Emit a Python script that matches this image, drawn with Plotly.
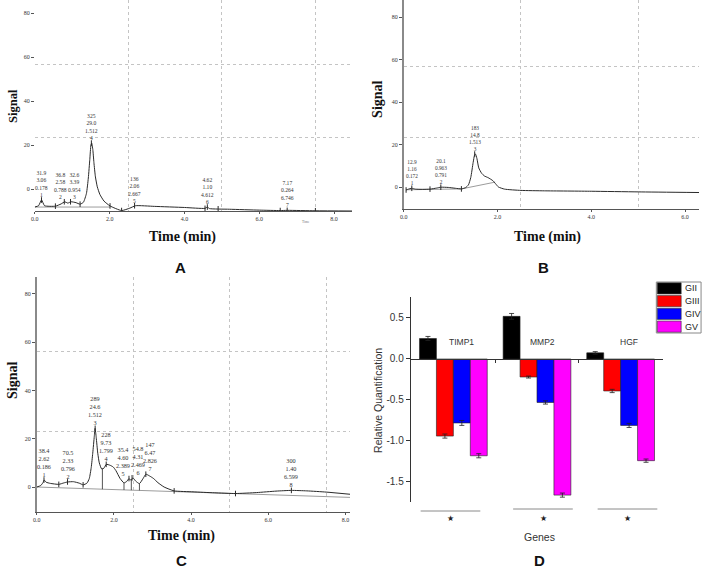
import plotly.graph_objects as go

W, H = 714, 568


def fx(p):
    return p / W


def fy(p):
    return 1 - p / H


# ---------------- Panel A chromatogram ----------------
A_time = [0.00, 0.10, 0.18, 0.26, 0.55, 0.70, 0.80, 0.88, 0.97, 1.10, 1.21, 1.30, 1.38, 1.43,
          1.47, 1.50, 1.52, 1.55, 1.58, 1.62, 1.67, 1.74, 1.85, 2.01, 2.32, 2.54, 2.69, 3.20,
          4.00, 4.55, 4.61, 4.67, 5.20, 6.00, 6.56, 6.75, 7.50, 8.48]
A_signal = [-8.2, -7.6, -5.0, -7.6, -7.8, -6.8, -5.8, -6.4, -5.8, -6.2, -6.9, -6.0, -2.0, 5.0,
            13.5, 20.0, 20.9, 18.0, 12.0, 5.5, 1.0, -2.5, -5.5, -7.7, -9.8, -8.7, -7.6, -7.9,
            -8.4, -8.8, -8.2, -8.9, -9.2, -9.6, -9.8, -9.7, -9.9, -10.0]
A_base_t = [0.00, 2.01]
A_base_s = [-8.2, -8.2]
A_mark_t = [0.55, 1.21, 2.01, 2.32, 4.55, 4.90, 6.56, 7.50]
A_mark_s = [-7.8, -6.9, -7.7, -9.8, -8.8, -9.0, -9.8, -9.9]
A_peak_t = [0.178, 0.788, 0.954, 1.512, 2.667, 4.612, 6.746]
A_peak_s = [-5.0, -5.8, -5.8, 20.9, -7.6, -8.2, -9.7]
A_peak_txt = ["31.9<br>3.06<br>0.178<br>1", "36.8<br>2.58<br>0.788<br>2", "32.6<br>3.39<br>0.954<br>3",
              "325<br>29.0<br>1.512<br>4", "136<br>2.06<br>2.667<br>5", "4.62<br>1.10<br>4.612<br>6",
              "7.17<br>0.264<br>6.746<br>7"]
A_peak_shift = [0, -4, 4, 0, 0, 0, 0]

# ---------------- Panel B chromatogram ----------------
B_time = [0.05, 0.10, 0.17, 0.25, 0.40, 0.56, 0.70, 0.79, 0.95, 1.10, 1.23, 1.32, 1.38, 1.43,
          1.48, 1.51, 1.53, 1.56, 1.60, 1.66, 1.72, 1.80, 1.90, 1.96, 2.02, 2.15, 2.50, 3.00,
          4.00, 5.00, 6.30]
B_signal = [-1.4, -1.0, -0.6, -1.0, -1.1, -1.0, -0.5, -0.1, -0.2, -0.6, -0.9, -0.3, 1.0, 4.5,
            11.5, 15.0, 15.5, 13.5, 9.0, 6.5, 5.2, 4.4, 3.0, 1.5, 0.0, -1.0, -1.6, -1.8,
            -2.0, -2.3, -2.6]
B_base_t = [0.05, 1.23, None, 1.23, 1.95]
B_base_s = [-1.3, -0.9, None, -0.9, 2.3]
B_mark_t = [0.05, 0.56, 1.23]
B_mark_s = [-1.4, -1.0, -0.9]
B_peak_t = [0.172, 0.791, 1.513]
B_peak_s = [-0.6, -0.1, 15.5]
B_peak_txt = ["12.9<br>1.16<br>0.172<br>1", "20.1<br>0.963<br>0.791<br>2", "183<br>14.8<br>1.513<br>3"]
B_peak_shift = [0, 0, 0]

# ---------------- Panel C chromatogram ----------------
C_time = [0.00, 0.10, 0.16, 0.19, 0.24, 0.35, 0.57, 0.70, 0.80, 0.95, 1.10, 1.20, 1.30, 1.36,
          1.41, 1.45, 1.49, 1.51, 1.54, 1.58, 1.62, 1.68, 1.74, 1.80, 1.90, 1.98, 2.05, 2.16,
          2.26, 2.33, 2.39, 2.44, 2.49, 2.56, 2.66, 2.75, 2.83, 2.92, 3.02, 3.14, 3.30, 3.56,
          4.05, 4.60, 5.15, 5.70, 6.20, 6.60, 7.00, 7.50, 8.12]
C_signal = [0.0, 0.6, 1.8, 2.9, 2.0, 1.5, 1.1, 1.7, 2.1, 2.2, 1.6, 0.9, 1.6, 3.5,
            8.0, 14.0, 21.0, 24.3, 20.5, 14.0, 10.0, 7.5, 7.8, 9.4, 9.0, 8.3, 6.8, 3.5,
            1.7, 2.3, 3.5, 2.8, 3.8, 2.5, 1.4, 3.4, 5.3, 4.6, 3.6, 1.8, 0.0, -1.6,
            -2.0, -2.4, -2.7, -2.3, -1.7, -1.4, -1.6, -2.1, -3.0]
C_base_t = [0.00, 8.12]
C_base_s = [0.0, -4.3]
C_drop_t = [1.70, 2.26, 2.45, 2.66]
C_drop_top = [7.6, 1.7, 2.9, 1.4]
C_drop_bot = [-0.9, -1.2, -1.3, -1.4]
C_mark_t = [0.57, 1.20, 3.56, 5.15]
C_mark_s = [1.1, 0.9, -1.6, -2.7]
C_peak_t = [0.186, 0.796, 1.512, 1.799, 2.389, 2.469, 2.826, 6.599]
C_peak_s = [2.9, 2.1, 24.3, 9.4, 3.5, 3.8, 5.3, -1.4]
C_peak_txt = ["38.4<br>2.62<br>0.186<br>1", "70.5<br>2.33<br>0.796<br>2", "289<br>24.6<br>1.512<br>3",
              "228<br>9.73<br>1.799<br>4", "35.4<br>4.60<br>2.389<br>5", "54.8<br>4.31<br>2.469<br>6",
              "147<br>6.47<br>2.826<br>7", "300<br>1.40<br>6.599<br>8"]
C_peak_shift = [0, 0, 0, 0, -6, 6, 4, 0]

chrom_xticks = [0, 2, 4, 6, 8]
chrom_xticktext = ["0.0", "2.0", "4.0", "6.0", "8.0"]
chrom_yticks = [0, 20, 40, 60, 80]
grid_time = [2.5, 5.0, 7.5]

# ---------------- Panel D bar chart ----------------
genes = ["TIMP1", "MMP2", "HGF"]
groups = ["GII", "GIII", "GIV", "GV"]
GII = [0.25, 0.52, 0.075]
GIII = [-0.94, -0.22, -0.39]
GIV = [-0.78, -0.53, -0.81]
GV = [-1.18, -1.66, -1.24]
GII_err = [0.025, 0.035, 0.015]
GIII_err = [0.025, 0.012, 0.02]
GIV_err = [0.03, 0.02, 0.025]
GV_err = [0.025, 0.025, 0.02]
colors = ["#000000", "#ff0000", "#0000ff", "#ff00ff"]
D_yticks = [0.5, 0.0, -0.5, -1.0, -1.5]
D_yticktext = ["0.5", "0.0", "-0.5", "-1.0", "-1.5"]

SERIF = "Liberation Serif, Times New Roman, serif"
SANS = "Liberation Sans, Arial, sans-serif"
TRACE = "#2a2a2a"
BASE = "#9c9c9c"
TXT = "#333333"

fig = go.Figure()
annotations = []
shapes = []


def add_chrom(n, t, s, bt, bs, mt, ms, pt, ps, ptxt, pshift, lblsize):
    xa, ya = "x" + ("" if n == 1 else str(n)), "y" + ("" if n == 1 else str(n))
    fig.add_trace(go.Scatter(x=bt, y=bs, mode="lines", line=dict(color=BASE, width=1),
                             xaxis=xa, yaxis=ya, hoverinfo="skip"))
    fig.add_trace(go.Scatter(x=t, y=s, mode="lines",
                             line=dict(color=TRACE, width=1, shape="spline", smoothing=0.5),
                             xaxis=xa, yaxis=ya, hoverinfo="skip"))
    fig.add_trace(go.Scatter(x=mt, y=ms, mode="markers",
                             marker=dict(symbol="line-ns", size=4, line=dict(color=TRACE, width=1)),
                             xaxis=xa, yaxis=ya, hoverinfo="skip"))
    fig.add_trace(go.Scatter(x=pt, y=ps, mode="markers",
                             marker=dict(symbol="line-ns", size=4, line=dict(color=TRACE, width=1)),
                             xaxis=xa, yaxis=ya, hoverinfo="skip"))
    for x, y, tx, sh in zip(pt, ps, ptxt, pshift):
        annotations.append(dict(x=x, y=y, xref=xa, yref=ya, text=tx, showarrow=False,
                                yanchor="bottom", yshift=1, xshift=sh, borderpad=0,
                                font=dict(family=SERIF, size=lblsize, color=TXT)))


add_chrom(1, A_time, A_signal, A_base_t, A_base_s, A_mark_t, A_mark_s, A_peak_t, A_peak_s,
          A_peak_txt, A_peak_shift, 5.6)
add_chrom(2, B_time, B_signal, B_base_t, B_base_s, B_mark_t, B_mark_s, B_peak_t, B_peak_s,
          B_peak_txt, B_peak_shift, 5.3)
add_chrom(3, C_time, C_signal, C_base_t, C_base_s, C_mark_t, C_mark_s, C_peak_t, C_peak_s,
          C_peak_txt, C_peak_shift, 6.2)

# drop lines in C
dx, dy = [], []
for t0, a, b in zip(C_drop_t, C_drop_top, C_drop_bot):
    dx += [t0, t0, None]
    dy += [a, b, None]
fig.add_trace(go.Scatter(x=dx, y=dy, mode="lines", line=dict(color=TRACE, width=0.8),
                         xaxis="x3", yaxis="y3", hoverinfo="skip"))

# bars
vals = [GII, GIII, GIV, GV]
errs = [GII_err, GIII_err, GIV_err, GV_err]
for name, v, e, c in zip(groups, vals, errs, colors):
    fig.add_trace(go.Bar(x=genes, y=v, name=name, marker=dict(color=c, line=dict(color="#222", width=0.6)),
                         error_y=dict(type="data", array=e, color="#222", thickness=0.8, width=2.5),
                         xaxis="x4", yaxis="y4"))


def chrom_axes(xdom, xr, ydom, yr, ygrid, yline, lblsize):
    xa = dict(domain=xdom, range=xr, tickvals=chrom_xticks, ticktext=chrom_xticktext,
              showline=True, linecolor="#555", linewidth=1, ticks="outside", ticklen=2,
              tickcolor="#555", tickfont=dict(family=SERIF, size=lblsize, color=TXT),
              showgrid=False, zeroline=False,
              minor=dict(tickvals=grid_time, showgrid=True, gridcolor="#c4c4c4", griddash="dot",
                         gridwidth=1, ticks=""))
    ya = dict(domain=ydom, range=yr, tickvals=chrom_yticks, showline=yline, linecolor="#8a8a8a",
              linewidth=1.5, ticks="outside", ticklen=3, tickcolor="#555",
              tickfont=dict(family=SERIF, size=lblsize, color=TXT),
              showgrid=False, zeroline=False,
              minor=dict(tickvals=ygrid, showgrid=True, gridcolor="#c4c4c4", griddash="dot",
                         gridwidth=1, ticks=""))
    return xa, ya


xa1, ya1 = chrom_axes([fx(31), fx(350)], [0, 8.48], [fy(211), 1], [-10, 86], [23.5, 56.5], False, 6)
xa2, ya2 = chrom_axes([fx(402), fx(699)], [0, 6.30], [fy(209), 1], [-10.35, 88], [23.5, 56.5], True, 6)
xa3, ya3 = chrom_axes([fx(33), fx(348)], [0, 8.12], [fy(512), fy(277)], [-10.35, 87.0], [23.2, 56.3], True, 6)
xa1["anchor"] = "y"
ya1["anchor"] = "x"
xa2["anchor"] = "y2"
ya2["anchor"] = "x2"
xa3["anchor"] = "y3"
ya3["anchor"] = "x3"

xa4 = dict(domain=[fx(409), fx(663)], range=[-0.51, 2.51], anchor="free", position=fy(359),
           showline=True, linecolor="#333", linewidth=1, tickvals=[0.5, 1.5], ticks="outside",
           ticklen=3, tickcolor="#333", showticklabels=False, showgrid=False, zeroline=False)
ya4 = dict(domain=[fy(502), fy(297)], range=[-1.744, 0.756], anchor="x4", showline=True,
           linecolor="#333", linewidth=1, tickvals=D_yticks, ticktext=D_yticktext, ticks="outside",
           ticklen=4, tickcolor="#333", tickfont=dict(family=SANS, size=10, color=TXT),
           showgrid=False, zeroline=False)


def ann(x, y, text, size, family, bold=False, angle=0, color=TXT):
    annotations.append(dict(x=fx(x), y=fy(y), xref="paper", yref="paper", showarrow=False,
                            text=f"<b>{text}</b>" if bold else text, textangle=angle,
                            xanchor="center", yanchor="middle",
                            font=dict(family=family, size=size, color=color)))


# chromatogram titles
ann(9, 106, "Signal", 12.5, SERIF, True, -90, "#111")
ann(180, 237, "Time (min)", 14, SERIF, True, 0, "#111")
ann(177, 267, "A", 15, SANS, True, 0, "#111")
ann(376, 99, "Signal", 14, SERIF, True, -90, "#111")
ann(547, 237, "Time (min)", 14, SERIF, True, 0, "#111")
ann(543, 267, "B", 15, SANS, True, 0, "#111")
ann(8, 380, "Signal", 14, SERIF, True, -90, "#111")
ann(179, 536, "Time (min)", 14, SERIF, True, 0, "#111")
ann(178, 560, "C", 15, SANS, True, 0, "#111")
ann(304, 222, "Time", 3.5, SERIF, False, 0, "#777")

# bar chart texts
ann(376, 400, "Relative Quantification", 10.5, SANS, False, -90)
ann(539, 537, "Genes", 10.5, SANS)
ann(539, 560, "D", 15, SANS, True, 0, "#111")
for g, gx in zip(genes, [0.1, 1.07, 2.1]):
    annotations.append(dict(x=gx, y=0.207, xref="x4", yref="y4", text=g, showarrow=False,
                            font=dict(family=SANS, size=8.5, color=TXT)))
for x0, x1, yy, sx in [(419, 479, 511, 449), (512, 572, 509, 543), (597, 657, 509, 627)]:
    shapes.append(dict(type="line", xref="paper", yref="paper", x0=fx(x0), x1=fx(x1),
                       y0=fy(yy), y1=fy(yy), line=dict(color="#8a8a8a", width=1)))
    ann(sx, 518, "★", 8, SANS, False, 0, "#222")

# manual legend
lx0, lx1, ly0, row = 656, 701, 282, 12.75
shapes.append(dict(type="rect", xref="paper", yref="paper", x0=fx(lx0), x1=fx(lx1),
                   y0=fy(ly0), y1=fy(ly0 + 4 * row), line=dict(color="#888", width=1),
                   fillcolor="white"))
for i, (g, c) in enumerate(zip(groups, colors)):
    top = ly0 + i * row
    shapes.append(dict(type="rect", xref="paper", yref="paper", x0=fx(lx0 + 1), x1=fx(681),
                       y0=fy(top + 0.8), y1=fy(top + row - 0.8), line=dict(color="#333", width=0.6),
                       fillcolor=c))
    annotations.append(dict(x=fx(683), y=fy(top + row / 2), xref="paper", yref="paper", text=g,
                            showarrow=False, xanchor="left", yanchor="middle",
                            font=dict(family=SANS, size=9, color="#222")))

fig.update_layout(
    width=W, height=H, margin=dict(l=0, r=0, t=0, b=0),
    paper_bgcolor="white", plot_bgcolor="white", showlegend=False, hovermode=False,
    barmode="group", bargap=0.19, bargroupgap=0,
    xaxis=xa1, yaxis=ya1, xaxis2=xa2, yaxis2=ya2, xaxis3=xa3, yaxis3=ya3,
    xaxis4=xa4, yaxis4=ya4, annotations=annotations, shapes=shapes,
)

fig.write_html("out.html", config={"displayModeBar": False},
               post_script="document.body.style.margin='0';document.body.style.overflow='hidden';")
